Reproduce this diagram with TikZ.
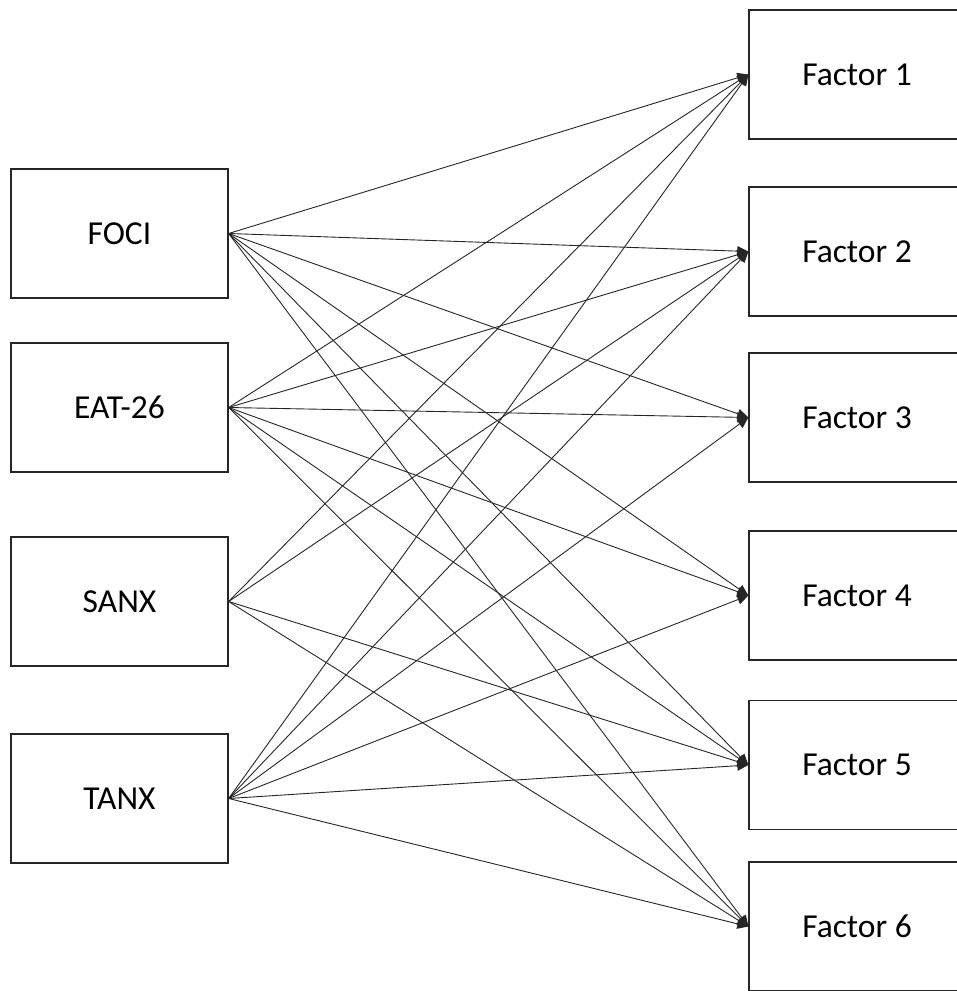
\documentclass[tikz,border=0pt]{standalone}
\usepackage{fontspec}
\setmainfont{Carlito}
\usetikzlibrary{arrows.meta}
\begin{document}
\begin{tikzpicture}[x=1pt,y=-1pt,
  box/.style={draw=black!85,line width=1.3pt,fill=white,inner sep=0pt,
    font=\fontsize{33.5}{38}\selectfont},
  lbox/.style={box,minimum width=217pt,minimum height=129pt},
  rbox/.style={box,minimum width=216pt,minimum height=129pt},
  arr/.style={draw=black!85,line width=0.9pt,-{Triangle[length=11pt,width=10pt]}}]
\useasboundingbox (0,0) rectangle (957,991);
\clip (0,0) rectangle (957,991);
\node[lbox] (foci) at (119.5,233.5) {FOCI};
\node[lbox] (eat) at (119.5,407.5) {EAT-26};
\node[lbox] (sanx) at (119.5,601.5) {SANX};
\node[lbox] (tanx) at (119.5,798.5) {TANX};
\node[rbox] (f1) at (857,74.5) {Factor 1};
\node[rbox] (f2) at (857,251.5) {Factor 2};
\node[rbox] (f3) at (857,417.5) {Factor 3};
\node[rbox] (f4) at (857,595.5) {Factor 4};
\node[rbox] (f5) at (857,765) {Factor 5};
\node[rbox] (f6) at (857,926.5) {Factor 6};
\foreach \s in {foci,eat,tanx}{
  \foreach \t in {f1,f2,f3,f4,f5,f6}{
    \draw[arr] (\s.east) -- (\t.west);
  }
}
\foreach \t in {f1,f2,f5,f6}{
  \draw[arr] (sanx.east) -- (\t.west);
}
\end{tikzpicture}
\end{document}
